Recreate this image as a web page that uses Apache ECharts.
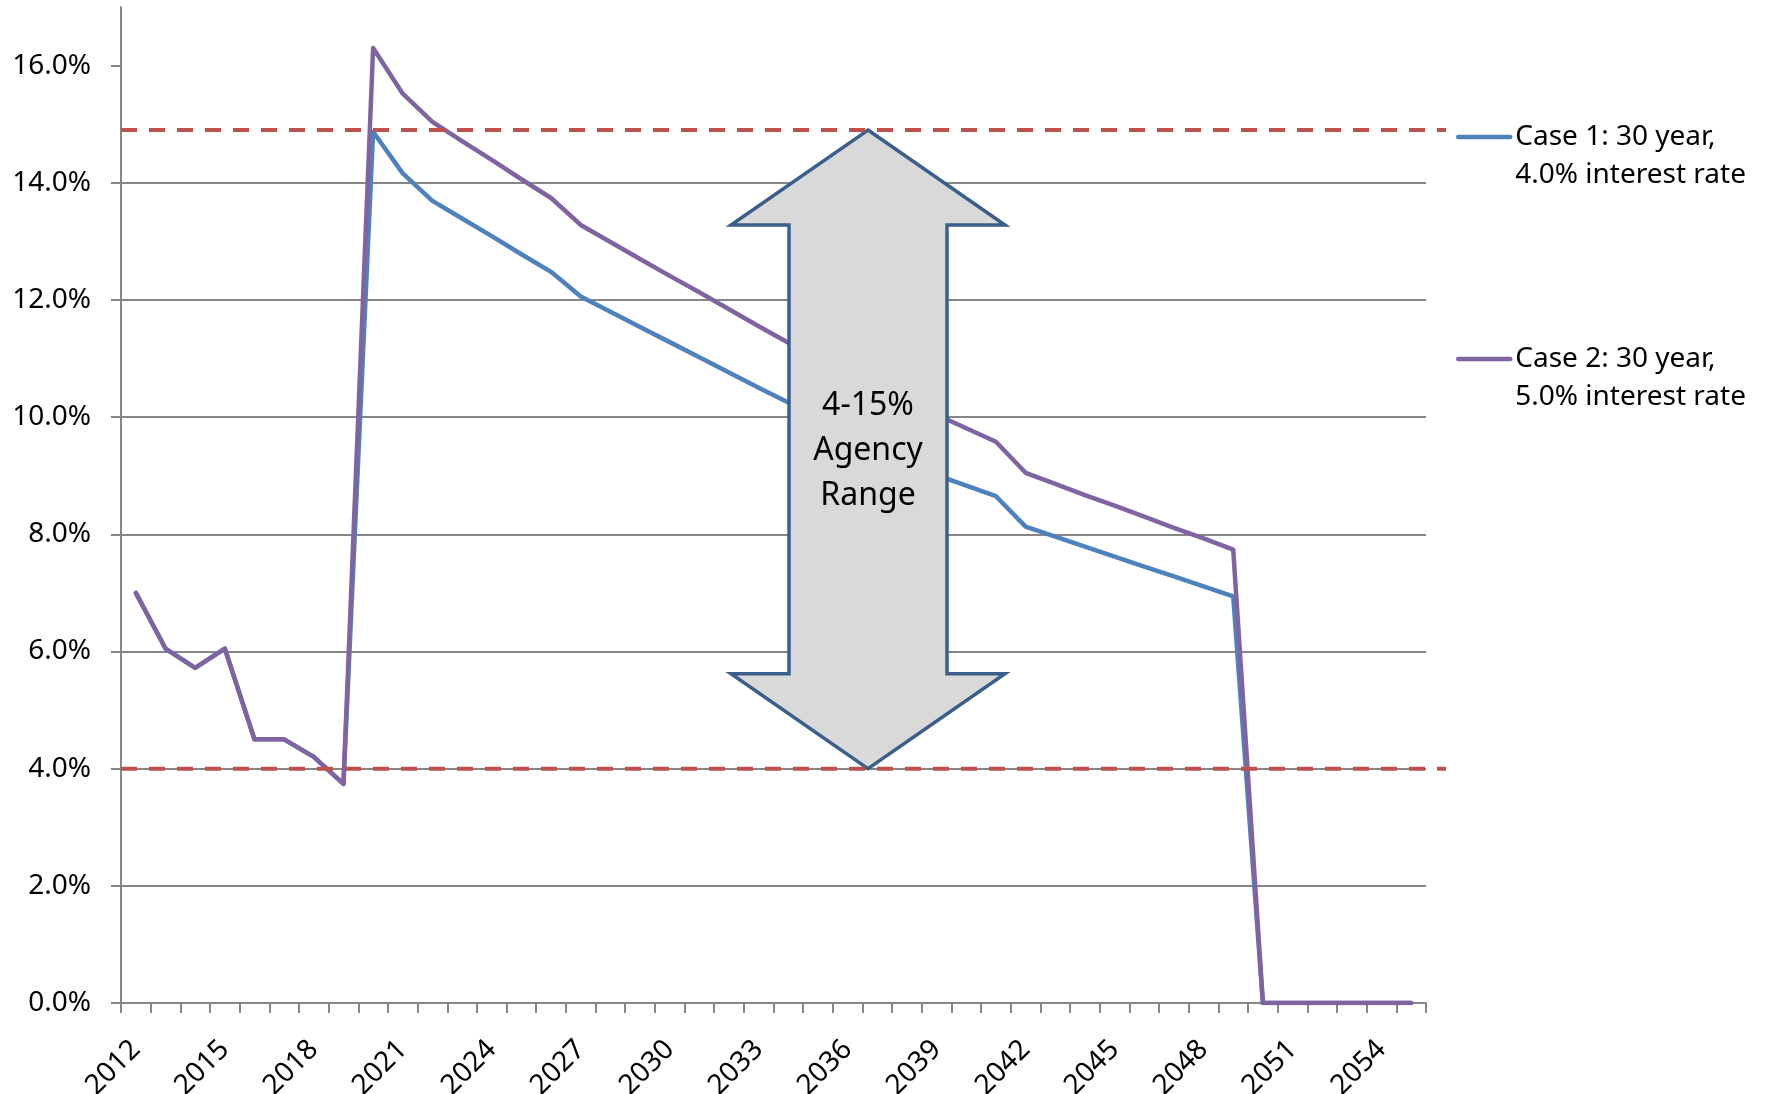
<!DOCTYPE html>
<html>
<head>
<meta charset="utf-8">
<script src="https://cdn.jsdelivr.net/npm/echarts@6/dist/echarts.min.js"></script>
<style>
  html, body { margin: 0; padding: 0; background: #ffffff; }
  #chart { width: 1767px; height: 1094px; }
</style>
</head>
<body>
<div id="chart"></div>
<script>
// Years on the category axis
const years = ['2012','2013','2014','2015','2016','2017','2018','2019','2020','2021',
  '2022','2023','2024','2025','2026','2027','2028','2029','2030','2031',
  '2032','2033','2034','2035','2036','2037','2038','2039','2040','2041',
  '2042','2043','2044','2045','2046','2047','2048','2049','2050','2051',
  '2052','2053','2054','2055'];

// Series names (legend text)
const case1Name = 'Case 1: 30 year,\n4.0% interest rate';
const case2Name = 'Case 2: 30 year,\n5.0% interest rate';

// Annual rate, percent
const case1 = [7.00, 6.05, 5.72, 6.05, 4.50, 4.50, 4.20, 3.74,
  14.87, 14.16, 13.69, 13.39, 13.09, 12.78, 12.48, 12.06, 11.80, 11.54,
  11.28, 11.02, 10.76, 10.50, 10.25, 10.00, 9.75, 9.50, 9.26, 9.01,
  8.83, 8.65, 8.13, 7.96, 7.79, 7.62, 7.45, 7.28, 7.11, 6.94,
  0, 0, 0, 0, 0, 0];
const case2 = [7.00, 6.05, 5.72, 6.05, 4.50, 4.50, 4.20, 3.74,
  16.30, 15.52, 15.04, 14.71, 14.39, 14.06, 13.74, 13.28, 12.99, 12.70,
  12.41, 12.13, 11.84, 11.55, 11.27, 11.02, 10.78, 10.53, 10.29, 10.04,
  9.81, 9.58, 9.05, 8.86, 8.67, 8.49, 8.30, 8.11, 7.93, 7.74,
  0, 0, 0, 0, 0, 0];

// Value-axis ticks (percent)
const yTicks = [0, 2, 4, 6, 8, 10, 12, 14, 16];
const yMax = 17;

// Agency range bounds (percent): lower, upper
const agencyRange = [4.0, 14.9];
const agencyText = '4-15%\nAgency\nRange';

const FONT = '"Noto Sans", "Open Sans", sans-serif';
const AXIS_GREY = '#868686';
const BLUE = '#4f81bd';
const PURPLE = '#8064a2';
const RED = '#c0504d';

const chart = echarts.init(document.getElementById('chart'), null, { renderer: 'canvas' });

const gridBox = { left: 121, right: 341, top: 7, bottom: 91, outerBoundsMode: 'none', containLabel: false };

const legendCommon = {
  orient: 'vertical',
  left: 1456,
  padding: 0,
  itemWidth: 52,
  itemHeight: 14,
  selectedMode: false,
  itemStyle: { opacity: 0 },
  lineStyle: { width: 4.5, cap: 'round' },
  // a leading blank line keeps the swatch level with the first text line
  formatter: name => '\n' + name,
  textStyle: { fontSize: 28, fontFamily: FONT, color: '#000', lineHeight: 38 }
};

const option = {
  animation: false,
  backgroundColor: '#ffffff',
  grid: [
    Object.assign({}, gridBox),
    // overlay grid for the range guide lines, reaching a little past the plot
    Object.assign({}, gridBox, { right: 321 })
  ],
  legend: [
    Object.assign({}, legendCommon, { data: [case1Name], top: 80 }),
    Object.assign({}, legendCommon, { data: [case2Name], top: 302 })
  ],
  xAxis: [
    {
      type: 'category',
      gridIndex: 0,
      data: years,
      boundaryGap: true,
      axisLine: { lineStyle: { color: AXIS_GREY, width: 2 } },
      axisTick: { show: true, interval: 0, length: 10, lineStyle: { color: AXIS_GREY, width: 2 } },
      axisLabel: {
        interval: 2, rotate: 45, fontSize: 28, fontFamily: FONT, color: '#000',
        margin: 42
      },
      splitLine: { show: false }
    },
    { type: 'value', gridIndex: 1, min: 0, max: 1, show: false }
  ],
  yAxis: [
    {
      type: 'value',
      gridIndex: 0,
      min: 0,
      max: yMax,
      axisLine: { show: true, lineStyle: { color: AXIS_GREY, width: 2 } },
      axisTick: { show: true, length: 10, customValues: yTicks, lineStyle: { color: AXIS_GREY, width: 2 } },
      axisLabel: {
        customValues: yTicks,
        formatter: v => v.toFixed(1) + '%',
        fontSize: 28, fontFamily: FONT, color: '#000', margin: 30
      },
      splitLine: { show: true, showMaxLine: false, lineStyle: { color: AXIS_GREY, width: 2 } }
    },
    { type: 'value', gridIndex: 1, min: 0, max: yMax, show: false }
  ],
  series: [
    {
      name: case1Name, type: 'line', data: case1,
      xAxisIndex: 0, yAxisIndex: 0,
      symbol: 'none', z: 2,
      itemStyle: { color: BLUE },
      lineStyle: { color: BLUE, width: 4.5, cap: 'round', join: 'round' }
    },
    {
      name: case2Name, type: 'line', data: case2,
      xAxisIndex: 0, yAxisIndex: 0,
      symbol: 'none', z: 3,
      itemStyle: { color: PURPLE },
      lineStyle: { color: PURPLE, width: 4.5, cap: 'round', join: 'round' }
    }
  ].concat(agencyRange.map(v => ({
    name: 'range-' + v, type: 'line',
    xAxisIndex: 1, yAxisIndex: 1,
    data: [[0, v], [1, v]],
    symbol: 'none', silent: true, z: 20,
    lineStyle: { color: RED, width: 4, type: [16, 12] }
  })))
};

chart.setOption(option);

// Double-headed arrow spanning the agency range
function drawArrow() {
  const yTop = chart.convertToPixel({ yAxisIndex: 0 }, agencyRange[1]);
  const yBot = chart.convertToPixel({ yAxisIndex: 0 }, agencyRange[0]);
  const cx = 868;
  const headHalf = 137, bodyHalf = 79, headH = 95;
  const pts = [
    [cx, yTop],
    [cx + headHalf, yTop + headH],
    [cx + bodyHalf, yTop + headH],
    [cx + bodyHalf, yBot - headH],
    [cx + headHalf, yBot - headH],
    [cx, yBot],
    [cx - headHalf, yBot - headH],
    [cx - bodyHalf, yBot - headH],
    [cx - bodyHalf, yTop + headH],
    [cx - headHalf, yTop + headH]
  ];
  chart.setOption({
    graphic: [
      {
        type: 'polygon', z: 10, silent: true,
        shape: { points: pts },
        style: { fill: '#d9d9d9', stroke: '#3b5f8c', lineWidth: 3.5, lineJoin: 'miter' }
      },
      {
        type: 'text', z: 11, silent: true,
        x: cx, y: (yTop + yBot) / 2 + 2,
        style: {
          text: agencyText, fill: '#000',
          fontSize: 32, fontFamily: FONT, lineHeight: 45,
          align: 'center', verticalAlign: 'middle',
          textAlign: 'center', textVerticalAlign: 'middle'
        }
      }
    ]
  });
}
drawArrow();
</script>
</body>
</html>
